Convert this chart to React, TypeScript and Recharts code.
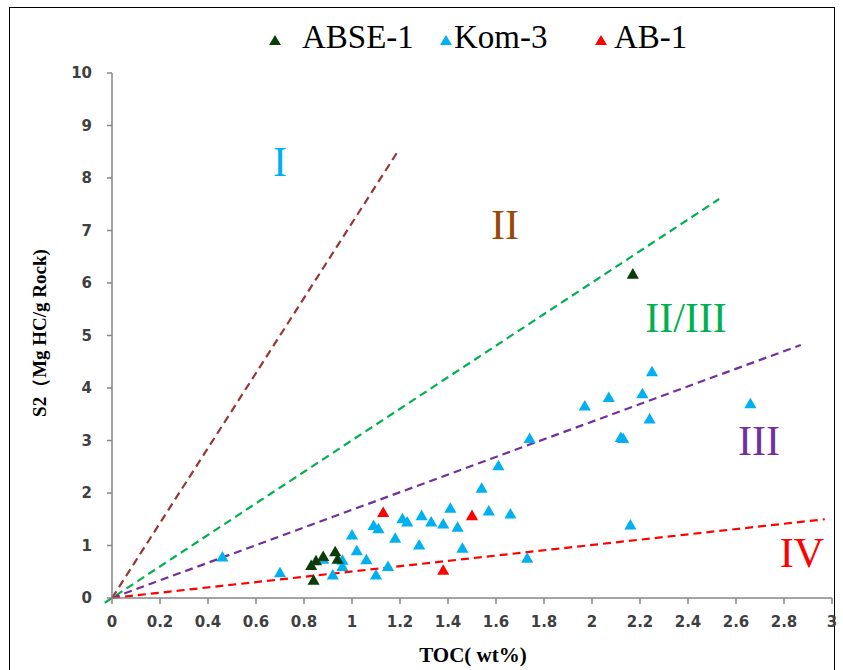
import {
  ScatterChart,
  Scatter,
  XAxis,
  YAxis,
  ZAxis,
  ReferenceLine,
} from "recharts";

// TOC (wt%) / S2 (mg HC/g rock)
const abseTOC = [0.84, 0.83, 0.85, 0.88, 0.93, 0.94, 2.17];
const abseS2 = [0.32, 0.6, 0.69, 0.77, 0.86, 0.72, 6.15];

const komTOC = [
  0.46, 0.7, 0.88, 0.92, 0.96, 0.96, 1.0, 1.02, 1.06, 1.09, 1.11, 1.1, 1.15,
  1.18, 1.21, 1.23, 1.28, 1.29, 1.33, 1.38, 1.41, 1.44, 1.46, 1.54, 1.57, 1.61,
  1.66, 1.73, 1.74, 1.97, 2.07, 2.12, 2.13, 2.16, 2.21, 2.24, 2.25, 2.66,
];
const komS2 = [
  0.76, 0.46, 0.72, 0.42, 0.7, 0.58, 1.18, 0.88, 0.71, 1.36, 1.3, 0.42, 0.58,
  1.12, 1.49, 1.43, 0.99, 1.55, 1.43, 1.39, 1.69, 1.33, 0.93, 2.07, 1.64, 2.5,
  1.58, 0.74, 3.02, 3.64, 3.8, 3.04, 3.02, 1.37, 3.87, 3.39, 4.29, 3.68,
];

const ab1TOC = [1.13, 1.38, 1.5];
const ab1S2 = [1.61, 0.51, 1.55];

// kerogen type boundary lines: [start, end]
const lineI = [[0, 0], [1.19, 8.5]];
const lineII = [[-0.03, -0.09], [2.53, 7.6]];
const lineIII = [[0, 0], [2.87, 4.82]];
const lineIV = [[0, 0], [2.97, 1.5]];

const xTicks = [0, 0.2, 0.4, 0.6, 0.8, 1, 1.2, 1.4, 1.6, 1.8, 2, 2.2, 2.4, 2.6, 2.8, 3];
const yTicks = [0, 1, 2, 3, 4, 5, 6, 7, 8, 9, 10];

const zip = (xs: number[], ys: number[]) => xs.map((x, i) => ({ x, y: ys[i] }));

const abseData = zip(abseTOC, abseS2);
const komData = zip(komTOC, komS2);
const ab1Data = zip(ab1TOC, ab1S2);

const seg = (l: number[][]) => [
  { x: l[0][0], y: l[0][1] },
  { x: l[1][0], y: l[1][1] },
];

const tickStyle = {
  fontFamily: "DejaVu Sans",
  fontWeight: "bold",
  fontSize: 15,
  fill: "#404040",
};

const serif = "'Liberation Serif', 'Times New Roman', serif";

function Tri({ color, x }: { color: string; x: number }) {
  return (
    <svg
      width={14}
      height={12}
      style={{ position: "absolute", left: x - 7, top: 34 }}
    >
      <polygon points="7,1 13,11 1,11" fill={color} />
    </svg>
  );
}

function RegionText({ t, x, y, color }: { t: string; x: number; y: number; color: string }) {
  return (
    <div
      style={{
        position: "absolute",
        left: x,
        top: y,
        transform: "translate(-50%, -50%)",
        fontFamily: serif,
        fontSize: 42,
        color,
        lineHeight: 1,
        whiteSpace: "nowrap",
      }}
    >
      {t}
    </div>
  );
}

export default function App() {
  return (
    <div
      style={{
        position: "absolute",
        left: 0,
        top: 0,
        width: 843,
        height: 670,
        background: "#fff",
        overflow: "hidden",
      }}
    >
      <div
        style={{
          position: "absolute",
          left: 9,
          top: 7,
          width: 824,
          height: 700,
          border: "1.5px solid #000",
        }}
      />
      <ScatterChart
        width={843}
        height={670}
        margin={{ top: 73, right: 11, bottom: 42, left: 72 }}
        style={{ position: "absolute", left: 0, top: 0 }}
      >
        <XAxis
          type="number"
          dataKey="x"
          domain={[0, 3]}
          ticks={xTicks}
          height={30}
          tickSize={6}
          tickMargin={12}
          stroke="#868686"
          strokeWidth={1.5}
          tick={tickStyle}
          allowDataOverflow
        />
        <YAxis
          type="number"
          dataKey="y"
          domain={[0, 10]}
          ticks={yTicks}
          width={40}
          tickSize={5}
          tickMargin={15}
          stroke="#868686"
          strokeWidth={1.5}
          tick={tickStyle}
          allowDataOverflow
        />
        <ZAxis range={[95, 95]} />
        <ReferenceLine segment={seg(lineI)} stroke="#953735" strokeWidth={2.2} strokeDasharray="8 5" ifOverflow="visible" />
        <ReferenceLine segment={seg(lineII)} stroke="#00b050" strokeWidth={2.2} strokeDasharray="8 5" ifOverflow="visible" />
        <ReferenceLine segment={seg(lineIII)} stroke="#7030a0" strokeWidth={2.2} strokeDasharray="8 5" ifOverflow="visible" />
        <ReferenceLine segment={seg(lineIV)} stroke="#ff0000" strokeWidth={2.2} strokeDasharray="8 5" ifOverflow="visible" />
        <Scatter name="Kom-3" data={komData} fill="#00b0f0" shape="triangle" isAnimationActive={false} />
        <Scatter name="ABSE-1" data={abseData} fill="#0b3d0b" shape="triangle" isAnimationActive={false} />
        <Scatter name="AB-1" data={ab1Data} fill="#ff0000" shape="triangle" isAnimationActive={false} />
      </ScatterChart>

      {/* legend */}
      <Tri color="#0b3d0b" x={275} />
      <Tri color="#00b0f0" x={446} />
      <Tri color="#ff0000" x={601} />
      {[
        { t: "ABSE-1", x: 302 },
        { t: "Kom-3", x: 454 },
        { t: "AB-1", x: 614 },
      ].map((l) => (
        <div
          key={l.t}
          style={{
            position: "absolute",
            left: l.x,
            top: 21,
            fontFamily: serif,
            fontSize: 33,
            lineHeight: 1,
            color: "#000",
          }}
        >
          {l.t}
        </div>
      ))}

      <RegionText t="I" x={280} y={162} color="#00b0f0" />
      <RegionText t="II" x={505} y={225} color="#984807" />
      <RegionText t="II/III" x={686} y={318} color="#00b050" />
      <RegionText t="III" x={759} y={441} color="#7030a0" />
      <RegionText t="IV" x={802} y={553} color="#ff0000" />

      <div
        style={{
          position: "absolute",
          left: 473,
          top: 655,
          transform: "translate(-50%, -50%)",
          fontFamily: serif,
          fontWeight: "bold",
          fontSize: 21,
          whiteSpace: "nowrap",
        }}
      >
        TOC( wt%)
      </div>
      <div
        style={{
          position: "absolute",
          left: 40,
          top: 333,
          transform: "translate(-50%, -50%) rotate(-90deg)",
          fontFamily: serif,
          fontWeight: "bold",
          fontSize: 19,
          whiteSpace: "nowrap",
        }}
      >
        S2（Mg HC/g Rock)
      </div>
    </div>
  );
}
